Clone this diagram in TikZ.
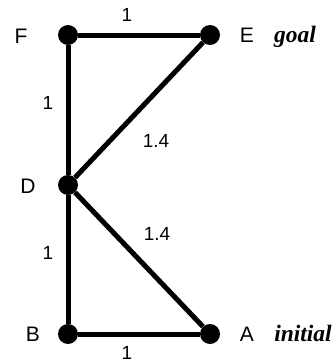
\documentclass[tikz,border=0pt]{standalone}
\usepackage{fontspec}
\setmainfont{Liberation Sans}
\newfontfamily\serifbi{Liberation Serif}
\begin{document}
\begin{tikzpicture}[x=1pt,y=-1pt,
  vertex/.style={circle,fill=black,inner sep=0pt,minimum size=20pt},
  edge/.style={line width=5pt},
  vlabel/.style={font=\fontsize{21}{21}\selectfont,inner sep=0pt},
  wlabel/.style={font=\fontsize{19}{19}\selectfont,inner sep=0pt},
  tag/.style={font=\serifbi\fontsize{23.5}{23.5}\selectfont\bfseries\itshape,inner sep=0pt}]
\useasboundingbox (0,0) rectangle (335,364);
\fill[white] (0,0) rectangle (335,364);
\node[vertex] (F) at (68,35) {};
\node[vertex] (E) at (210,35) {};
\node[vertex] (D) at (68,185) {};
\node[vertex] (B) at (68,334) {};
\node[vertex] (A) at (210,334) {};
\draw[edge] (F) -- (E);
\draw[edge] (F) -- (D);
\draw[edge] (E) -- (D);
\draw[edge] (D) -- (B);
\draw[edge] (D) -- (A);
\draw[edge] (B) -- (A);
\node[vlabel] (lF) at (21,36) {F};
\node[vlabel] (lE) at (247,35) {E};
\node[tag,anchor=base] (gl) at (295,42) {goal};
\node[vlabel] (lD) at (28,186) {D};
\node[vlabel] (lB) at (33,334) {B};
\node[vlabel] (lA) at (247,334) {A};
\node[tag,anchor=base] (in) at (303,341) {initial};
\node[wlabel] (w1) at (127,15) {1};
\node[wlabel] (w2) at (48,103) {1};
\node[wlabel] (w3) at (156,141) {1.4};
\node[wlabel] (w4) at (157,234) {1.4};
\node[wlabel] (w5) at (48,253) {1};
\node[wlabel] (w6) at (127,353) {1};
\end{tikzpicture}
\end{document}
